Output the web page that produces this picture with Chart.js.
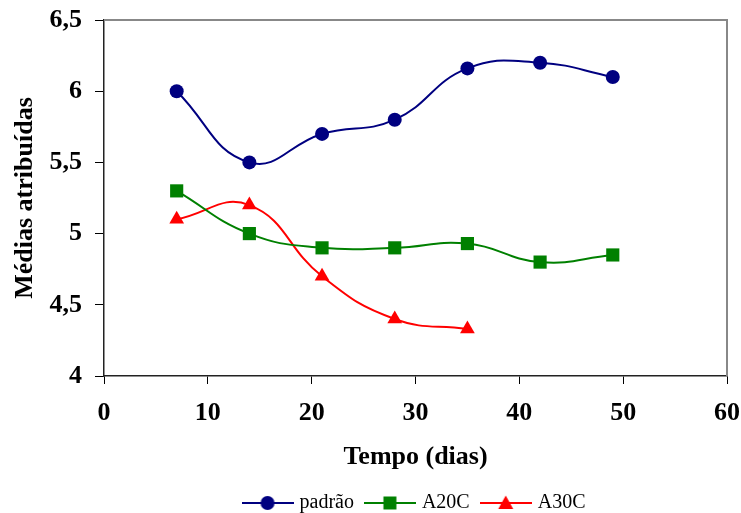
<!DOCTYPE html>
<html>
<head>
<meta charset="utf-8">
<script src="https://cdn.jsdelivr.net/npm/chart.js@4/dist/chart.umd.min.js"></script>
<style>
  html, body { margin:0; padding:0; background:#fff; }
  #wrap { width:741px; height:513px; position:relative; }
</style>
</head>
<body>
<div id="wrap"><canvas id="ch"></canvas></div>
<script>
// ---- dados
const dias     = [7, 14, 21, 28, 35, 42, 49];
const padrao   = [6.0, 5.5, 5.7, 5.8, 6.16, 6.2, 6.1];
const a20c     = [5.3, 5.0, 4.9, 4.9, 4.93, 4.8, 4.85];
const a30c     = [5.1, 5.2, 4.7, 4.4, 4.33];
const yTicks   = [4, 4.5, 5, 5.5, 6, 6.5];
const xTicks   = [0, 10, 20, 30, 40, 50, 60];

const FONT = '"Liberation Serif", "Times New Roman", serif';
const pts = (ys) => ys.map((y, i) => ({ x: dias[i], y }));

// desenha o símbolo da legenda: linha + marcador
function legendIcon(color, style){
  const c = document.createElement('canvas');
  c.width = 52; c.height = 18;
  const g = c.getContext('2d');
  g.strokeStyle = color; g.lineWidth = 2;
  g.beginPath(); g.moveTo(0, 9); g.lineTo(52, 9); g.stroke();
  g.fillStyle = color;
  g.beginPath();
  if (style === 'circle') g.arc(26, 9, 7, 0, Math.PI*2);
  else if (style === 'rect') g.rect(19.5, 2.5, 13, 13);
  else { g.moveTo(26, 1.5); g.lineTo(33.5, 15); g.lineTo(18.5, 15); g.closePath(); }
  g.fill();
  return c;
}

const series = [
  { label:'padrão', data: pts(padrao), color:'#000080', style:'circle',   r:7 },
  { label:'A20C',   data: pts(a20c),   color:'#008000', style:'rect',     r:9.3 },
  { label:'A30C',   data: pts(a30c),   color:'#FF0000', style:'triangle', r:8.5 },
];

// borda cinza superior/direita da área de plotagem
const frame = {
  id:'frame',
  afterLayout(chart){
    // legenda um pouco mais abaixo, como no original
    chart.legend.top += 10; chart.legend.bottom += 10;
  },
  beforeDatasetsDraw(chart){
    const { ctx, chartArea:a } = chart;
    ctx.save();
    ctx.strokeStyle = '#888'; ctx.lineWidth = 2;
    ctx.beginPath();
    ctx.moveTo(a.left, a.top); ctx.lineTo(a.right, a.top); ctx.lineTo(a.right, a.bottom);
    ctx.stroke();
    ctx.restore();
  }
};

new Chart(document.getElementById('ch'), {
  type:'line',
  data:{
    datasets: series.map(s => ({
      label: s.label,
      data: s.data,
      borderColor: s.color,
      backgroundColor: s.color,
      borderWidth: 2,
      pointStyle: s.style,
      pointRadius: s.r,
      pointHoverRadius: s.r,
      pointBorderWidth: 0,
      tension: 0.45,
      fill: false,
    }))
  },
  options:{
    responsive:true, maintainAspectRatio:false, animation:false,
    layout:{ padding:0 },
    scales:{
      x:{
        type:'linear', min:0, max:60,
        afterBuildTicks: s => { s.ticks = xTicks.map(v => ({ value:v })); },
        afterFit: s => { s.height = 93; s.paddingLeft = 0; s.paddingRight = 14; },
        grid:{ drawOnChartArea:false, drawTicks:true, tickLength:8, color:'#000', lineWidth:1 },
        border:{ display:true, color:'#222', width:1.5 },
        ticks:{ color:'#000', padding:14, maxRotation:0, font:{ family:FONT, size:26, weight:'bold' } },
        title:{ display:true, text:'Tempo (dias)', color:'#000', padding:{ top:0, bottom:-4 },
                font:{ family:FONT, size:26, weight:'bold' } }
      },
      y:{
        min:4, max:6.5,
        afterBuildTicks: s => { s.ticks = yTicks.map(v => ({ value:v })); },
        afterFit: s => { s.width = 104; s.paddingTop = 20; s.paddingBottom = 0; },
        grid:{ drawOnChartArea:false, drawTicks:true, tickLength:9, color:'#000', lineWidth:1 },
        border:{ display:true, color:'#222', width:1.5 },
        ticks:{ color:'#000', padding:13,
                callback: v => String(v).replace('.', ','),
                font:{ family:FONT, size:26, weight:'bold' } },
        title:{ display:true, text:'Médias atribuídas', color:'#000', padding:{ top:10, bottom:0 },
                font:{ family:FONT, size:26, weight:'bold' } }
      }
    },
    plugins:{
      legend:{
        position:'bottom', fullSize:false,
        labels:{
          usePointStyle:true, pointStyleWidth:44, padding:14, color:'#000',
          font:{ family:FONT, size:20 },
          generateLabels: chart => series.map((s, i) => ({
            text: s.label, pointStyle: legendIcon(s.color, s.style),
            fillStyle: s.color, strokeStyle: s.color, lineWidth: 0,
            fontColor:'#000', hidden:false, datasetIndex:i
          }))
        }
      },
      tooltip:{ enabled:false }
    }
  },
  plugins:[frame]
});
</script>
</body>
</html>
